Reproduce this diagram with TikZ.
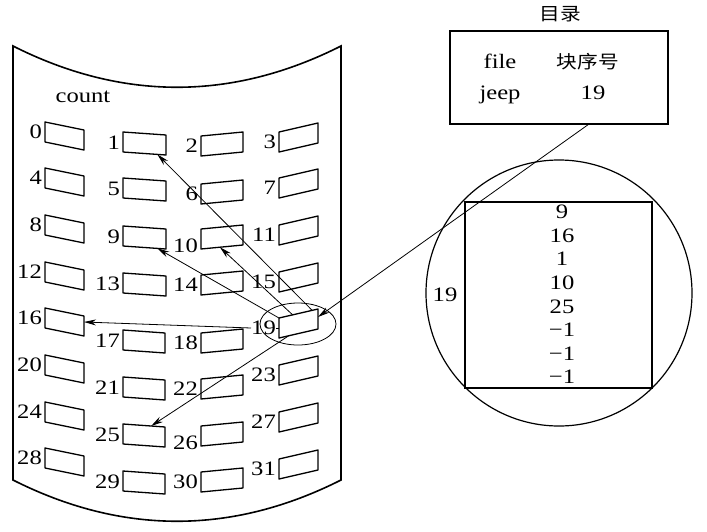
\documentclass[tikz,border=0pt]{standalone}
\usepackage{fontspec}
\setmainfont{Liberation Serif}[FakeStretch=1.2]
\newfontfamily\cjk{Noto Sans CJK SC}[FakeStretch=1.15]
\usetikzlibrary{arrows.meta, positioning, calc, shapes.geometric}

\begin{document}
\begin{tikzpicture}[x=1pt, y=-1pt,
    num/.style={font=\fontsize{20.5}{24}\selectfont, inner sep=0pt},
    han/.style={font=\cjk\fontsize{18}{22}\selectfont, inner sep=0pt},
    cell/.style={draw, line width=1.3pt, line join=round},
    ptr/.style={-{Stealth[length=12pt,width=6pt]}, line width=0.8pt},
    drum/.style={draw, line width=1.6pt}
  ]
  \useasboundingbox (0,0) rectangle (707,531);

  % disk
  \draw[drum] (13,46) .. controls (122,101) and (232,101) .. (341,46) -- (341,480)
    .. controls (232,535) and (122,535) .. (13,480) -- cycle;
  \node[num] (count) at (83,97) {count};

  % blocks: index/x/top y/slope/width/label offset
  \foreach \i/\x/\y/\s/\w/\d in {
      0/45/122/8/39/10, 4/45/168/8/39/10, 8/45/215/8/39/10, 12/45/262/8/39/10,
      16/45/308/8/39/10, 20/45/355/8/39/10, 24/45/402/8/39/10, 28/45/448/8/39/10,
      1/123/132/3/43/11, 5/123/178/3/43/11, 9/123/226/3/43/11, 13/123/273/3/43/11,
      17/123/330/3/42/11, 21/123/377/3/42/11, 25/123/424/3/42/11, 29/123/471/3/42/11,
      2/201/136/-4/42/10, 6/201/184/-4/42/10, 10/201/229/-4/42/17, 14/201/275/-4/42/10,
      18/201/333/-4/42/10, 22/201/379/-4/42/10, 26/201/426/-4/42/17, 30/201/472/-4/42/10,
      3/279/132/-9/39/10, 7/279/178/-9/39/10, 11/279/225/-9/39/10, 15/279/272/-9/39/10,
      19/279/318/-9/39/10, 23/279/365/-9/39/10, 27/279/412/-9/39/10, 31/279/459/-9/39/10}{
    \coordinate (c\i-tl) at (\x,\y);
    \coordinate (c\i-tr) at (\x+\w,\y+\s);
    \coordinate (c\i-br) at (\x+\w,\y+\s+20);
    \coordinate (c\i-bl) at (\x,\y+20);
    \draw[cell] (c\i-tl) -- (c\i-tr) -- (c\i-br) -- (c\i-bl) -- cycle;
    \node[num, anchor=east] (l\i) at (\x-3,\y+\d) {\i};
  }
  \draw[line width=0.8pt] (l19.east) -- ($(c19-tl)!0.5!(c19-bl)$);
  \node[draw, ellipse, line width=0.8pt, minimum width=76pt, minimum height=42pt] (sel) at (298,324) {};

  % links of block 19
  \draw[ptr] ($(c19-tl)!0.85!(c19-tr)$) -- ($(c1-bl)!0.8!(c1-br)$);
  \draw[ptr] ($(c19-tl)!0.35!(c19-tr)$) -- ($(c10-bl)!0.45!(c10-br)$);
  \draw[ptr] (c19-tl) -- ($(c9-bl)!0.8!(c9-br)$);
  \draw[ptr] (l19.west) -- ($(c16-tr)!0.3!(c16-br)$);
  \draw[ptr] ($(c19-bl)!0.25!(c19-br)$) -- ($(c25-tl)!0.67!(c25-tr)$);

  % directory
  \node[draw, line width=1.5pt, minimum width=218pt, minimum height=93pt] (dir) at (559,77.5) {};
  \node[han] (dirt) at (560,14) {目录};
  \node[num, anchor=base] (hfile) at (500,68) {file};
  \node[han, anchor=base] (hblk) at (588,68) {块序号};
  \node[num, anchor=base] (vfile) at (500,99) {jeep};
  \node[num, anchor=base] (vblk) at (593,99) {19};

  % block 19 enlarged
  \node[draw, circle, line width=1.2pt, minimum size=266pt] (mag) at (559,293) {};
  \node[draw, line width=1.5pt, minimum width=187pt, minimum height=186pt] (blk) at (558.5,295) {};
  \node[num] (blkno) at (445,295) {19};
  \foreach \v [count=\k from 0] in {9,16,1,10,25,−1,−1,−1}
    \node[num] (e\k) at (562,212+23.6*\k) {\v};

  \draw[ptr] ([xshift=29pt]dir.south) -- ($(c19-tr)!0.4!(c19-br)$);
\end{tikzpicture}
\end{document}
